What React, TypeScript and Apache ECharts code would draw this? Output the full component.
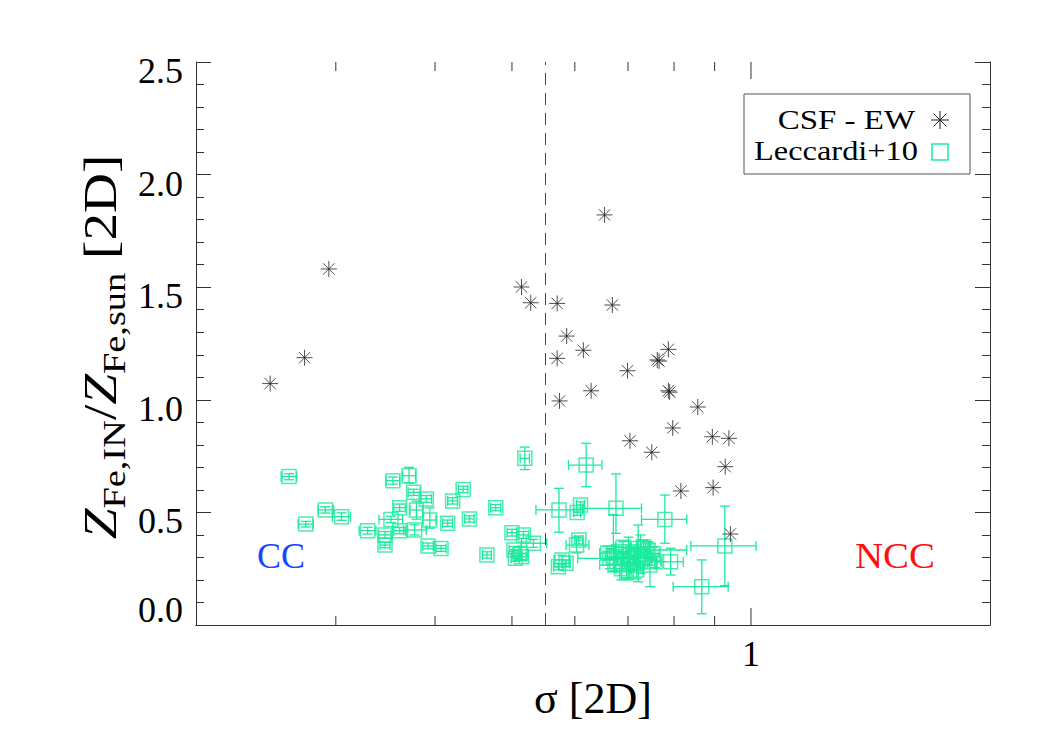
import React, { useEffect, useRef } from 'react';
import * as echarts from 'echarts';

// ---------- axis ranges & ticks ----------
const X_MIN = 0.2;
const X_MAX = 2;
const Y_MIN = 0;
const Y_MAX = 2.5;
const Y_INTERVAL = 0.5;
const xMinorTicks = [0.3, 0.4, 0.5, 0.6, 0.7, 0.8, 0.9];
const xMajorTicks = [1];
const xTickLabels = ['1'];
const sigmaThreshold = 0.55;

// ---------- CSF - EW (asterisks) ----------
const csfSigma = [0.248, 0.274, 0.294, 0.514, 0.528, 0.570, 0.654, 0.669, 0.586, 0.615,
  0.570, 0.787, 0.762, 0.766, 0.699, 0.629, 0.787, 0.790, 0.574, 0.857,
  0.797, 0.894, 0.938, 0.704, 0.750, 0.928, 0.816, 0.896, 0.942];
const csfZ = [1.072, 1.187, 1.581, 1.501, 1.431, 1.428, 1.821, 1.421, 1.283, 1.220,
  1.184, 1.224, 1.177, 1.172, 1.129, 1.040, 1.040, 1.034, 0.995, 0.968,
  0.875, 0.836, 0.829, 0.818, 0.767, 0.703, 0.595, 0.610, 0.404];

// ---------- Leccardi+10 (squares with error bars) ----------
const leccSigma = [0.262, 0.275, 0.291, 0.305, 0.329, 0.346, 0.346, 0.354, 0.371, 0.361,
  0.352, 0.376, 0.390, 0.379, 0.394, 0.361, 0.377, 0.392, 0.407, 0.415,
  0.421, 0.434, 0.442, 0.477, 0.465, 0.519, 0.500, 0.517, 0.532, 0.503,
  0.512, 0.505, 0.514, 0.573, 0.610, 0.604, 0.620, 0.676, 0.779, 0.927,
  0.867, 0.792, 0.607, 0.603, 0.578, 0.572, 0.585, 0.664, 0.671, 0.681,
  0.691, 0.701, 0.711, 0.721, 0.732, 0.742, 0.753, 0.674, 0.687, 0.697,
  0.711, 0.725, 0.735, 0.746, 0.757, 0.704, 0.718, 0.690, 0.660, 0.726];
const leccZ = [0.659, 0.448, 0.511, 0.481, 0.419, 0.400, 0.355, 0.641, 0.663, 0.521,
  0.469, 0.589, 0.560, 0.511, 0.466, 0.419, 0.422, 0.351, 0.340, 0.452,
  0.551, 0.602, 0.471, 0.521, 0.311, 0.740, 0.410, 0.400, 0.363, 0.333,
  0.318, 0.296, 0.303, 0.511, 0.533, 0.500, 0.710, 0.518, 0.469, 0.351,
  0.170, 0.281, 0.377, 0.355, 0.289, 0.259, 0.274, 0.296, 0.303, 0.325,
  0.296, 0.311, 0.325, 0.340, 0.348, 0.333, 0.318, 0.266, 0.250, 0.237,
  0.266, 0.281, 0.296, 0.266, 0.281, 0.274, 0.244, 0.345, 0.320, 0.315];
const leccSigmaLo = [0.256, 0.269, 0.285, 0.297, 0.321, 0.340, 0.341, 0.347, 0.364, 0.355,
  0.340, 0.370, 0.384, 0.372, 0.386, 0.355, 0.365, 0.386, 0.401, 0.409,
  0.415, 0.428, 0.436, 0.470, 0.459, 0.512, 0.493, 0.509, 0.514, 0.496,
  0.500, 0.499, 0.507, 0.536, 0.603, 0.598, 0.589, 0.615, 0.728, 0.840,
  0.798, 0.761, 0.600, 0.585, 0.565, 0.564, 0.578, 0.605, 0.655, 0.672,
  0.680, 0.690, 0.700, 0.705, 0.720, 0.700, 0.740, 0.645, 0.676, 0.686,
  0.700, 0.714, 0.720, 0.735, 0.745, 0.693, 0.706, 0.675, 0.645, 0.715];
const leccSigmaHi = [0.268, 0.281, 0.298, 0.313, 0.337, 0.352, 0.351, 0.361, 0.378, 0.367,
  0.364, 0.383, 0.396, 0.386, 0.401, 0.367, 0.390, 0.398, 0.413, 0.421,
  0.427, 0.440, 0.448, 0.484, 0.471, 0.526, 0.507, 0.525, 0.553, 0.510,
  0.524, 0.511, 0.521, 0.614, 0.617, 0.610, 0.649, 0.728, 0.830, 1.015,
  0.936, 0.822, 0.614, 0.625, 0.591, 0.580, 0.592, 0.700, 0.688, 0.690,
  0.702, 0.712, 0.722, 0.737, 0.745, 0.830, 0.766, 0.700, 0.698, 0.708,
  0.722, 0.736, 0.750, 0.757, 0.770, 0.715, 0.730, 0.705, 0.675, 0.737];
const leccZLo = [0.645, 0.435, 0.497, 0.465, 0.404, 0.385, 0.343, 0.625, 0.630, 0.505,
  0.455, 0.575, 0.545, 0.470, 0.430, 0.405, 0.400, 0.338, 0.327, 0.438,
  0.537, 0.588, 0.457, 0.507, 0.297, 0.690, 0.395, 0.385, 0.345, 0.318,
  0.290, 0.283, 0.289, 0.412, 0.520, 0.487, 0.614, 0.407, 0.363, 0.175,
  0.050, 0.222, 0.360, 0.320, 0.270, 0.245, 0.260, 0.250, 0.240, 0.300,
  0.270, 0.200, 0.300, 0.192, 0.320, 0.300, 0.290, 0.240, 0.200, 0.210,
  0.240, 0.255, 0.270, 0.170, 0.255, 0.250, 0.205, 0.320, 0.290, 0.230];
const leccZHi = [0.672, 0.460, 0.525, 0.498, 0.434, 0.415, 0.367, 0.657, 0.700, 0.537,
  0.483, 0.603, 0.575, 0.550, 0.520, 0.433, 0.445, 0.364, 0.353, 0.466,
  0.565, 0.616, 0.485, 0.535, 0.325, 0.790, 0.425, 0.415, 0.380, 0.348,
  0.345, 0.309, 0.317, 0.607, 0.547, 0.513, 0.807, 0.671, 0.577, 0.528,
  0.289, 0.341, 0.395, 0.390, 0.310, 0.273, 0.288, 0.340, 0.490, 0.350,
  0.320, 0.390, 0.350, 0.444, 0.375, 0.370, 0.345, 0.290, 0.300, 0.260,
  0.290, 0.305, 0.320, 0.360, 0.305, 0.300, 0.280, 0.370, 0.350, 0.400];

// ---------- styles ----------
const FONT = '"Liberation Serif", "Times New Roman", Times, serif';
const GREEN = '#1BEA9C';
const AXIS = '#333333';
const STAR_PATH = 'path://M8,0L8,16M0,8L16,8M2.34,2.34L13.66,13.66M2.34,13.66L13.66,2.34';

function measure(text: string, size: number, italic = false): number {
  const ctx = document.createElement('canvas').getContext('2d');
  if (!ctx) return text.length * size * 0.5;
  ctx.font = `${italic ? 'italic ' : ''}${size}px ${FONT}`;
  return ctx.measureText(text).width;
}

function buildYTitle() {
  const MAIN = 46;
  const SUB = 32;
  const parts = [
    { t: 'Z', size: MAIN, italic: true, dy: 0 },
    { t: 'Fe,IN', size: SUB, italic: false, dy: 14 },
    { t: '/', size: MAIN, italic: false, dy: 0 },
    { t: 'Z', size: MAIN, italic: true, dy: 0 },
    { t: 'Fe,sun', size: SUB, italic: false, dy: 14 },
    { t: ' [2D]', size: MAIN, italic: false, dy: 0 },
  ];
  const widths = parts.map((p) => measure(p.t, p.size, p.italic));
  const total = widths.reduce((a, b) => a + b, 0);
  let u = -total / 2;
  const children: any[] = [];
  parts.forEach((p, i) => {
    children.push({
      type: 'text',
      style: {
        text: p.t,
        x: u,
        y: p.dy,
        fontSize: p.size,
        fontFamily: FONT,
        fontStyle: p.italic ? 'italic' : 'normal',
        fill: '#000',
        textAlign: 'left',
        textVerticalAlign: 'middle',
      },
    });
    u += widths[i];
  });
  return { type: 'group', x: 101, y: 347, rotation: Math.PI / 2, scaleX: 1.2, scaleY: 1, children };
}

function label(text: string, x: number, y: number, size: number, color: string, align: string, sx: number) {
  return {
    type: 'text',
    x,
    y,
    scaleX: sx,
    scaleY: 1,
    style: { text, x: 0, y: 0, textAlign: align, textVerticalAlign: 'middle', fontSize: size, fontFamily: FONT, fill: color },
  };
}

function tickSeries(values: number[], len: number) {
  return {
    type: 'custom',
    xAxisIndex: 0,
    yAxisIndex: 0,
    silent: true,
    clip: false,
    z: 5,
    data: values.map((v) => [v, Y_MIN]),
    encode: { x: 0, y: 1 },
    renderItem: (_p: any, api: any) => {
      const v = api.value(0);
      const b = api.coord([v, Y_MIN]);
      const t = api.coord([v, Y_MAX]);
      return {
        type: 'group',
        children: [
          { type: 'line', shape: { x1: b[0], y1: b[1], x2: b[0], y2: b[1] - len }, style: { stroke: AXIS, lineWidth: 1 } },
          { type: 'line', shape: { x1: t[0], y1: t[1], x2: t[0], y2: t[1] + len }, style: { stroke: AXIS, lineWidth: 1 } },
        ],
      };
    },
  };
}

export default function App() {
  const ref = useRef<HTMLDivElement>(null);

  useEffect(() => {
    if (!ref.current) return;
    const chart = echarts.init(ref.current, null, { renderer: 'svg' });

    const starData = csfSigma.map((s, i) => [s, csfZ[i]]);
    const squareData = leccSigma.map((s, i) => [s, leccZ[i]]);
    const errData = leccSigma.map((s, i) => [s, leccZ[i], leccSigmaLo[i], leccSigmaHi[i], leccZLo[i], leccZHi[i]]);

    const yLabelRich = {
      n: { fontSize: 36, fontFamily: FONT, color: '#000', padding: [18, 0, 0, 0] },
      z: { fontSize: 36, fontFamily: FONT, color: '#000', padding: [0, 0, 30, 0] },
    };

    const option: any = {
      animation: false,
      backgroundColor: '#ffffff',
      grid: { left: 196, top: 62, width: 794, height: 563, containLabel: false },
      xAxis: [
        {
          type: 'log',
          logBase: 10,
          min: X_MIN,
          max: X_MAX,
          position: 'bottom',
          axisLine: { show: true, lineStyle: { color: AXIS, width: 1 } },
          axisTick: { show: false },
          splitLine: { show: false },
          axisLabel: {
            show: true,
            showMinLabel: false,
            showMaxLabel: false,
            margin: 11,
            fontSize: 36,
            fontFamily: FONT,
            color: '#000',
            formatter: (v: number) => {
              const idx = xMajorTicks.findIndex((m) => Math.abs(m - v) < 1e-6);
              return idx >= 0 ? xTickLabels[idx] : '';
            },
          },
          name: 'σ [2D]',
          nameLocation: 'middle',
          nameGap: 50,
          nameTextStyle: { fontSize: 44, fontFamily: FONT, color: '#000' },
        },
        {
          type: 'log',
          logBase: 10,
          min: X_MIN,
          max: X_MAX,
          position: 'top',
          axisLine: { show: true, lineStyle: { color: AXIS, width: 1 } },
          axisTick: { show: false },
          axisLabel: { show: false },
          splitLine: { show: false },
        },
      ],
      yAxis: [
        {
          type: 'value',
          min: Y_MIN,
          max: Y_MAX,
          interval: Y_INTERVAL,
          position: 'left',
          axisLine: { show: true, lineStyle: { color: AXIS, width: 1 } },
          axisTick: { show: true, inside: true, length: 15, lineStyle: { color: AXIS } },
          minorTick: { show: true, splitNumber: 5, length: 8, lineStyle: { color: AXIS } },
          splitLine: { show: false },
          minorSplitLine: { show: false },
          axisLabel: {
            margin: 13,
            formatter: (v: number) => (v === 0 ? `{z|${v.toFixed(1)}}` : `{n|${v.toFixed(1)}}`),
            rich: yLabelRich,
          },
        },
        {
          type: 'value',
          min: Y_MIN,
          max: Y_MAX,
          interval: Y_INTERVAL,
          position: 'right',
          axisLine: { show: true, lineStyle: { color: AXIS, width: 1 } },
          axisTick: { show: true, inside: true, length: 15, lineStyle: { color: AXIS } },
          minorTick: { show: true, splitNumber: 5, length: 8, lineStyle: { color: AXIS } },
          splitLine: { show: false },
          minorSplitLine: { show: false },
          axisLabel: { show: false },
        },
      ],
      series: [
        tickSeries(xMinorTicks, 9),
        tickSeries(xMajorTicks, 17),
        {
          type: 'custom',
          name: 'errors',
          xAxisIndex: 0,
          yAxisIndex: 0,
          silent: true,
          z: 2,
          data: errData,
          encode: { x: 0, y: 1 },
          renderItem: (_p: any, api: any) => {
            const x = api.value(0);
            const y = api.value(1);
            const c = api.coord([x, y]);
            const l = api.coord([api.value(2), y]);
            const r = api.coord([api.value(3), y]);
            const lo = api.coord([x, api.value(4)]);
            const hi = api.coord([x, api.value(5)]);
            const cap = 5;
            const st = { stroke: GREEN, lineWidth: 1.3 };
            return {
              type: 'group',
              children: [
                { type: 'line', shape: { x1: l[0], y1: c[1], x2: r[0], y2: c[1] }, style: st },
                { type: 'line', shape: { x1: l[0], y1: c[1] - cap, x2: l[0], y2: c[1] + cap }, style: st },
                { type: 'line', shape: { x1: r[0], y1: c[1] - cap, x2: r[0], y2: c[1] + cap }, style: st },
                { type: 'line', shape: { x1: c[0], y1: lo[1], x2: c[0], y2: hi[1] }, style: st },
                { type: 'line', shape: { x1: c[0] - cap, y1: lo[1], x2: c[0] + cap, y2: lo[1] }, style: st },
                { type: 'line', shape: { x1: c[0] - cap, y1: hi[1], x2: c[0] + cap, y2: hi[1] }, style: st },
              ],
            };
          },
        },
        {
          type: 'scatter',
          name: 'Leccardi+10',
          xAxisIndex: 0,
          yAxisIndex: 0,
          silent: true,
          z: 3,
          symbol: 'rect',
          symbolSize: 14,
          itemStyle: { color: 'rgba(0,0,0,0)', borderColor: GREEN, borderWidth: 1.5 },
          data: squareData,
        },
        {
          type: 'scatter',
          name: 'CSF - EW',
          xAxisIndex: 0,
          yAxisIndex: 0,
          silent: true,
          z: 4,
          symbol: STAR_PATH,
          symbolSize: 16,
          itemStyle: { color: 'rgba(0,0,0,0)', borderColor: '#222', borderWidth: 1 },
          data: starData,
          markLine: {
            silent: true,
            symbol: ['none', 'none'],
            label: { show: false },
            lineStyle: { type: [12, 8], color: '#444', width: 1 },
            data: [{ xAxis: sigmaThreshold }],
          },
        },
      ],
      graphic: [
        buildYTitle(),
        label('CC', 281, 556, 36, '#1646FF', 'center', 1.0),
        label('NCC', 895, 556, 36, '#FF1010', 'center', 1.08),
        {
          type: 'rect',
          shape: { x: 744, y: 94, width: 226, height: 80 },
          style: { fill: '#fff', stroke: '#555', lineWidth: 1 },
        },
        label('CSF - EW', 915, 120, 27, '#000', 'right', 1.22),
        label('Leccardi+10', 918, 150, 27, '#000', 'right', 1.2),
        {
          type: 'group',
          x: 940,
          y: 120,
          children: [
            { type: 'line', shape: { x1: 0, y1: -9, x2: 0, y2: 9 }, style: { stroke: '#222', lineWidth: 1 } },
            { type: 'line', shape: { x1: -9, y1: 0, x2: 9, y2: 0 }, style: { stroke: '#222', lineWidth: 1 } },
            { type: 'line', shape: { x1: -6.4, y1: -6.4, x2: 6.4, y2: 6.4 }, style: { stroke: '#222', lineWidth: 1 } },
            { type: 'line', shape: { x1: -6.4, y1: 6.4, x2: 6.4, y2: -6.4 }, style: { stroke: '#222', lineWidth: 1 } },
          ],
        },
        {
          type: 'rect',
          shape: { x: 932, y: 144, width: 16, height: 16 },
          style: { fill: 'none', stroke: GREEN, lineWidth: 1.5 },
        },
      ],
    };

    chart.setOption(option);
    return () => chart.dispose();
  }, []);

  return (
    <div
      ref={ref}
      style={{ position: 'absolute', left: 0, top: 0, width: 1050, height: 750, background: '#fff' }}
    />
  );
}
